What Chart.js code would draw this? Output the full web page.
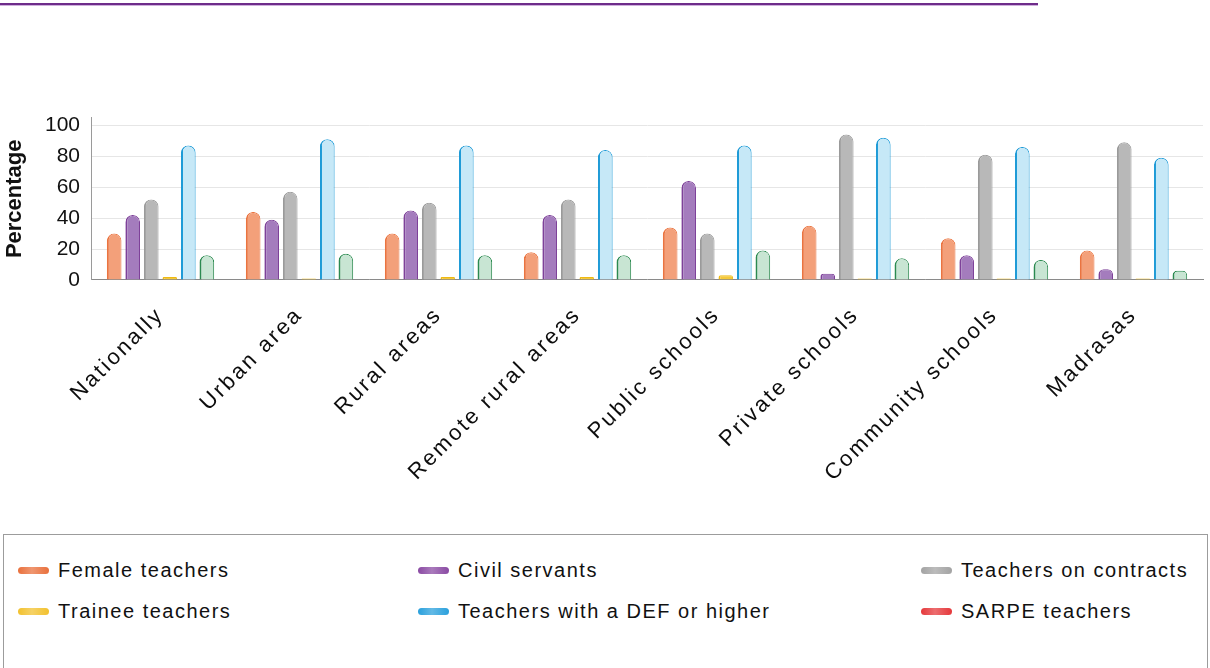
<!DOCTYPE html>
<html>
<head>
<meta charset="utf-8">
<title>Teachers by area and school type</title>
<script src="https://cdn.jsdelivr.net/npm/chart.js@4.4.1/dist/chart.umd.min.js"></script>
<style>
  html, body { margin: 0; padding: 0; background: #fff; }
  body { width: 1210px; height: 668px; overflow: hidden; position: relative; font-family: 'Liberation Sans', Arial, sans-serif; }
  .rule { position: absolute; left: 0; top: 3px; width: 1038px; height: 2px; background: #6e2c8a; border-bottom: 1px solid #cfb0dc; }
  .wrap { position: absolute; left: 0; top: 94px; width: 1210px; height: 436px; }
  .legend { position: absolute; left: 3px; top: 534px; width: 1205px; height: 150px; border: 1px solid #9c9c9c; box-sizing: border-box; }
  .item { position: absolute; height: 24px; line-height: 24px; font-size: 20px; letter-spacing: 1.5px; color: #111; white-space: nowrap; }
  .sw { position: absolute; left: 0; top: 9px; width: 31px; height: 7px; border-radius: 4px; }
  .item span.txt { position: absolute; left: 40px; top: 0; }
</style>
</head>
<body>
<div class="rule"></div>
<div class="wrap"><canvas id="chart" width="1210" height="436"></canvas></div>
<div class="legend" id="legend"></div>
<script>
  // categories and series (percent)
  const categories = ['Nationally', 'Urban area', 'Rural areas', 'Remote rural areas', 'Public schools', 'Private schools', 'Community schools', 'Madrasas'];
  const seriesNames = ['Female teachers', 'Civil servants', 'Teachers on contracts', 'Trainee teachers', 'Teachers with a DEF or higher', 'SARPE teachers'];
  const femaleTeachers = [30, 44, 30, 18, 34, 35, 27, 19];
  const civilServants = [42, 39, 45, 42, 64, 4, 16, 7];
  const onContracts = [52, 57, 50, 52, 30, 94, 81, 89];
  const traineeTeachers = [2, 1, 2, 2, 3, 1, 1, 1];
  const defOrHigher = [87, 91, 87, 84, 87, 92, 86, 79];
  const sarpeTeachers = [16, 17, 16, 16, 19, 14, 13, 6];
  const yTicks = [0, 20, 40, 60, 80, 100];

  // bar fill / edge, and the swatch colour used in the legend box
  const fills = ['#f3a07a', '#a47cbd', '#b8b8b8', '#f5c93a', '#c6e8f7', '#c8e5d3'];
  const edges = ['#ea7440', '#7e4199', '#9a9a9a', '#eeb913', '#1f9bd7', '#2b8a50'];
  const swatches = ['#e9703c', '#8a4aa3', '#a3a3a3', '#f2c12e', '#2aa0dc', '#e5383b'];

  const values = [femaleTeachers, civilServants, onContracts, traineeTeachers, defOrHigher, sarpeTeachers];

  Chart.defaults.font.family = "'Liberation Sans', Arial, sans-serif";
  Chart.defaults.color = '#111';

  // category labels are set with wider tracking than the rest
  const trackedLabels = {
    id: 'trackedLabels',
    beforeDraw(chart) {
      const x = chart.scales.x;
      if (x._tracked) return;
      const draw = x.drawLabels;
      x.drawLabels = function (area) {
        this.ctx.save();
        this.ctx.letterSpacing = '2.5px';
        draw.call(this, area);
        this.ctx.restore();
      };
      x._tracked = true;
    }
  };

  const datasets = values.map((data, i) => ({
    label: seriesNames[i],
    data,
    backgroundColor: fills[i],
    borderColor: edges[i],
    borderWidth: { left: 2, right: 1, top: 1, bottom: 0 },
    borderRadius: { topLeft: 7, topRight: 7, bottomLeft: 0, bottomRight: 0 },
    borderSkipped: 'start',
    categoryPercentage: 0.8,
    barPercentage: 0.79
  }));

  new Chart(document.getElementById('chart'), {
    type: 'bar',
    data: { labels: categories, datasets },
    plugins: [trackedLabels],
    options: {
      responsive: false,
      animation: false,
      devicePixelRatio: 1,
      layout: { padding: { top: 13, right: 7, left: 0, bottom: 0 } },
      plugins: { legend: { display: false }, tooltip: { enabled: false } },
      scales: {
        x: {
          grid: { display: false, drawTicks: false },
          border: { color: '#8a8a8a', width: 1 },
          ticks: { minRotation: 45, maxRotation: 45, autoSkip: false, padding: 22, font: { size: 22 }, color: '#0d0d0d' },
          afterFit: (s) => { s.height = 250; }
        },
        y: {
          min: 0,
          max: 105,
          ticks: { stepSize: 20, padding: 11, font: { size: 21 }, color: '#111' },
          afterBuildTicks: (s) => { s.ticks = yTicks.map((v) => ({ value: v })); },
          grid: { color: '#e6e6e6', drawTicks: false },
          border: { color: '#9a9a9a', width: 1 },
          title: { display: true, text: 'Percentage', font: { size: 22, weight: 'bold' }, color: '#111', padding: { top: 2, bottom: 0 } },
          afterFit: (s) => { s.width = 91; }
        }
      }
    }
  });

  // legend box: three columns, two rows
  const legend = document.getElementById('legend');
  const colX = [14, 414, 917];
  const rowY = [23, 64];
  seriesNames.forEach((name, i) => {
    const el = document.createElement('div');
    el.className = 'item';
    el.style.left = colX[i % 3] + 'px';
    el.style.top = rowY[Math.floor(i / 3)] + 'px';
    el.innerHTML = '<div class="sw" style="background:linear-gradient(90deg,' + swatches[i] + ' 0%,' + swatches[i] + 'bb 45%,' + swatches[i] + ' 100%)"></div><span class="txt">' + name + '</span>';
    legend.appendChild(el);
  });
</script>
</body>
</html>
